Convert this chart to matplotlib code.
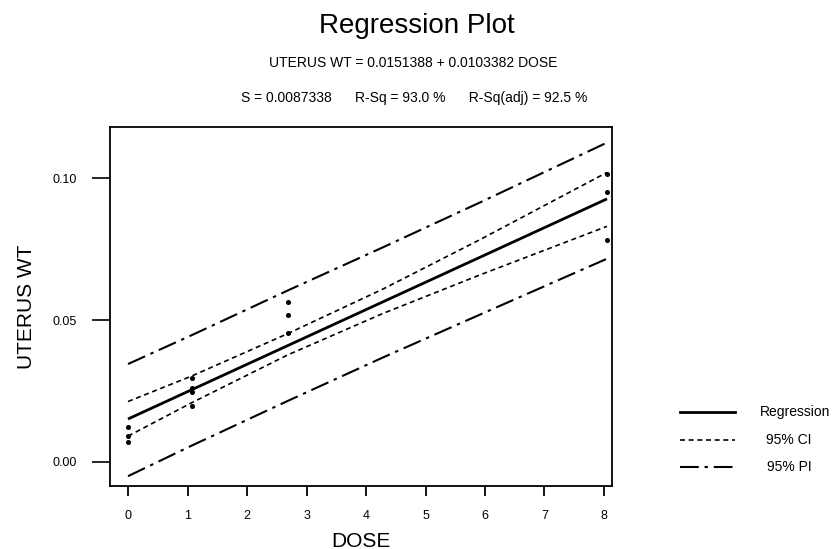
import numpy as np
import matplotlib
matplotlib.use("Agg")
import matplotlib.pyplot as plt
from matplotlib.lines import Line2D

plt.rcParams['font.family'] = ['Liberation Sans', 'DejaVu Sans']

# --------- dados ---------
B0, B1 = 0.0151388, 0.0103382

dose_obs = [0, 0, 0, 1, 1, 1, 1, 2.5, 2.5, 2.5, 7.5, 7.5, 7.5]
wt_obs   = [0.0123, 0.0092, 0.0070,
            0.0296, 0.0261, 0.0245, 0.0197,
            0.0563, 0.0518, 0.0454,
            0.1015, 0.0951, 0.0782]

dose_band = [0, 1, 2.5, 4, 5.5, 7.5]
ci_upper  = [0.0213, 0.0303, 0.0452, 0.0610, 0.0782, 0.1020]
ci_lower  = [0.0091, 0.0209, 0.0377, 0.0524, 0.0658, 0.0830]
pi_upper  = [0.0345, 0.0447, 0.0604, 0.0757, 0.0913, 0.1125]
pi_lower  = [-0.0050, 0.0058, 0.0215, 0.0369, 0.0518, 0.0716]

x_ticklabels = ["0", "1", "2", "3", "4", "5", "6", "7", "8"]
y_ticks = [0.00, 0.05, 0.10]
y_ticklabels = ["0.00", "0.05", "0.10"]

# --------- estilos ---------
CI_STYLE = (0, (3.0, 2.2))
PI_STYLE = (0, (9.0, 2.8, 1.6, 2.8))
TICK_STEP = 0.9316   # o eixo impresso nao bate com a escala dos dados

fig = plt.figure(figsize=(8.34, 5.49), dpi=100)
ax = fig.add_axes([0.1319, 0.1148, 0.6019, 0.6539])

x_fit = np.array([0, 7.5])
ax.plot(x_fit, B0 + B1 * x_fit, color="black", lw=2.0, solid_capstyle="butt")
ax.plot(dose_band, ci_upper, color="black", lw=1.2, linestyle=CI_STYLE)
ax.plot(dose_band, ci_lower, color="black", lw=1.2, linestyle=CI_STYLE)
ax.plot(dose_band, pi_upper, color="black", lw=1.5, linestyle=PI_STYLE)
ax.plot(dose_band, pi_lower, color="black", lw=1.5, linestyle=PI_STYLE)
ax.plot(dose_obs, wt_obs, linestyle="none", marker="o", ms=2.6, color="black")

ax.set_xlim(-0.282, 7.578)
ax.set_ylim(-0.00845, 0.118)
ax.set_xticks(np.arange(len(x_ticklabels)) * TICK_STEP)
ax.set_xticklabels(x_ticklabels, fontsize=9)
ax.set_yticks(y_ticks)
ax.set_yticklabels(y_ticklabels, fontsize=9)
ax.tick_params(axis="x", direction="out", length=7.2, width=1.3, pad=10)
ax.tick_params(axis="y", direction="out", length=13, width=1.2, pad=11)
for s in ax.spines.values():
    s.set_linewidth(1.3)

ax.set_xlabel("DOSE", fontsize=15, labelpad=7)
ax.set_ylabel("UTERUS WT", fontsize=15, labelpad=12)

fig.text(0.5, 0.952, "Regression Plot", ha="center", va="center", fontsize=20)
fig.text(0.495, 0.885, "UTERUS WT = 0.0151388 + 0.0103382 DOSE",
         ha="center", va="center", fontsize=10)
fig.text(0.497, 0.822, "S = 0.0087338      R-Sq = 93.0 %      R-Sq(adj) = 92.5 %",
         ha="center", va="center", fontsize=10)

# legenda manual a direita
leg = [("Regression", "-", 2.0, 412, 795),
       ("95% CI", CI_STYLE, 1.2, 440, 789),
       ("95% PI", PI_STYLE, 1.5, 467, 789)]
for nome, ls, lw, ypx, xpx in leg:
    yy = 1 - ypx / 549
    fig.add_artist(Line2D([680 / 834, 735 / 834], [yy, yy], color="black",
                          lw=lw, linestyle=ls))
    fig.text(xpx / 834, yy, nome, ha="center", va="center", fontsize=10)

fig.savefig("out.png", dpi=100)
